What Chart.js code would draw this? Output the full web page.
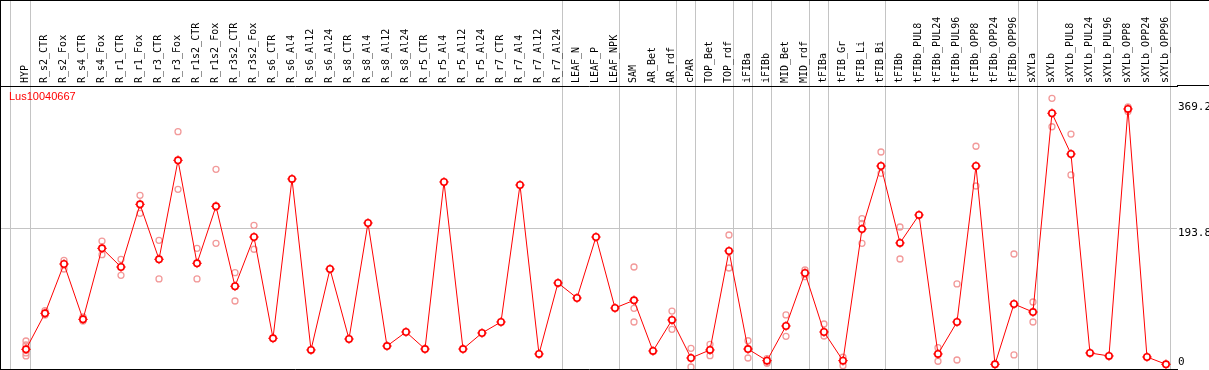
<!DOCTYPE html>
<html>
<head>
<meta charset="utf-8">
<script src="https://cdn.jsdelivr.net/npm/chart.js@4.4.1/dist/chart.umd.min.js"></script>
<style>
  html, body { margin: 0; padding: 0; background: #fff; }
  #wrap { width: 1208px; height: 369px; border-top: 1px solid #000; border-left: 1px solid #000; }
  canvas { display: block; }
</style>
</head>
<body>
<div id="wrap"><canvas id="exprChart" width="1208" height="369"></canvas></div>
<script>
// Expression profile for one gene across tissues / treatments
const geneName = 'Lus10040667';

const categories = [
    'HYP', 'R_s2_CTR', 'R_s2_Fox', 'R_s4_CTR', 'R_s4_Fox', 'R_r1_CTR', 'R_r1_Fox', 'R_r3_CTR', 'R_r3_Fox', 'R_r1s2_CTR',
    'R_r1s2_Fox', 'R_r3s2_CTR', 'R_r3s2_Fox', 'R_s6_CTR', 'R_s6_Al4', 'R_s6_Al12', 'R_s6_Al24', 'R_s8_CTR', 'R_s8_Al4', 'R_s8_Al12',
    'R_s8_Al24', 'R_r5_CTR', 'R_r5_Al4', 'R_r5_Al12', 'R_r5_Al24', 'R_r7_CTR', 'R_r7_Al4', 'R_r7_Al12', 'R_r7_Al24', 'LEAF_N',
    'LEAF_P', 'LEAF_NPK', 'SAM', 'AR_Bet', 'AR_rdf', 'cPAR', 'TOP_Bet', 'TOP_rdf', 'iFIBa', 'iFIBb',
    'MID_Bet', 'MID_rdf', 'tFIBa', 'tFIB_Gr', 'tFIB_Li', 'tFIB_Bi', 'tFIBb', 'tFIBb_PUL8', 'tFIBb_PUL24', 'tFIBb_PUL96',
    'tFIBb_OPP8', 'tFIBb_OPP24', 'tFIBb_OPP96', 'sXYLa', 'sXYLb', 'sXYLb_PUL8', 'sXYLb_PUL24', 'sXYLb_PUL96', 'sXYLb_OPP8', 'sXYLb_OPP24',
    'sXYLb_OPP96'
];

// mean expression (red line)
const means = [
    24.7, 75.0, 143.9, 66.6, 165.8, 139.7, 227.3, 150.5, 288.8, 144.9,
    224.5, 112.8, 181.6, 40.1, 262.7, 23.8, 136.9, 39.1, 201.2, 29.3,
    48.9, 25.1, 258.5, 25.1, 47.5, 62.9, 254.3, 18.2, 117.4, 96.4,
    181.6, 82.4, 93.2, 22.4, 65.7, 12.6, 23.8, 162.1, 25.1, 8.8,
    57.3, 131.3, 48.9, 8.8, 192.8, 280.8, 173.3, 212.4, 18.2, 62.9,
    280.8, 3.8, 88.0, 76.8, 354.5, 297.6, 19.6, 15.4, 360.5, 14.0,
    3.8
];

// single replicates (pink circles)
const repA = [
    36.3, 78.7, 149.1, 69.9, 176.0, 150.5, 239.9, 177.0, 328.8, 165.8,
    276.2, 131.8, 198.0, null, null, null, null, null, null, null,
    null, null, null, null, null, null, null, null, null, null,
    null, null, 139.7, null, 78.2, 26.1, 31.7, 184.4, 36.7, 11.6,
    72.7, 135.5, 60.1, 13.6, 207.2, 300.4, 195.6, null, 27.0, 116.0,
    308.4, null, 157.9, 90.8, 375.4, 325.5, null, null, 363.3, null,
    null
];
const repB = [
    15.4, 72.7, 136.9, 64.3, 156.9, 128.1, 214.7, 123.0, 248.3, 123.0,
    172.8, 92.2, 164.5, null, null, null, null, null, null, null,
    null, null, null, null, null, null, null, null, null, null,
    null, null, 62.9, null, 52.7, 0, 15.8, 138.3, 12.6, 5.2,
    42.9, 126.2, 43.3, 1.8, 172.8, 270.6, 150.9, null, 8.0, 9.8,
    252.9, null, 16.8, 62.9, 335.7, 268.3, null, null, 357.0, null,
    null
];
const repC = [
    30.7, null, null, null, null, null, null, null, null, null,
    null, null, null, null, null, null, null, null, null, null,
    null, null, null, null, null, null, null, null, null, null,
    null, null, 82.0, null, null, null, null, null, null, null,
    null, null, null, null, 200.8, null, null, null, null, null,
    null, null, null, null, null, null, null, null, null, null,
    null
];
const repD = [
    19.6, null, null, null, null, null, null, null, null, null,
    null, null, null, null, null, null, null, null, null, null,
    null, null, null, null, null, null, null, null, null, null,
    null, null, null, null, null, null, null, null, null, null,
    null, null, null, null, null, null, null, null, null, null,
    null, null, null, null, null, null, null, null, null, null,
    null
];

const yTicks = [0, 193.8, 369.2];
const gridValue = 193.8;

// last category index of each group (gray separator after it)
const groupEnds = [0, 28, 31, 34, 35, 37, 38, 39, 41, 42, 45, 52, 53, 60];

const xMin = -1.316, xMax = 60.58;
const yMin = -2.8, yMax = 392.6;
const labelShift = 0.6;   // rotated labels sit left of their tick, push them back over the points
const sepTicks = [-0.84].concat(groupEnds.map(i => i + 0.24));
const GRAY = '#c4c4c4';
const NONE = 'rgba(0,0,0,0)';
const MONO = 'DejaVu Sans Mono';

function toPoints(arr) {
    return arr.map((v, i) => ({ x: i, y: v }));
}

function isSep(ctx) {
    return ctx.tick && ctx.index >= categories.length;
}

function noPadding(s) {
    s.paddingLeft = 0;
    s.paddingRight = 0;
    s.paddingTop = 0;
    s.paddingBottom = 0;
}

const frameExtras = {
    id: 'frameExtras',
    afterDraw(chart) {
        const { ctx, chartArea } = chart;
        ctx.save();
        ctx.strokeStyle = '#000';
        ctx.lineWidth = 1;
        ctx.beginPath();
        ctx.moveTo(chartArea.right, chartArea.top - 0.5);
        ctx.lineTo(chart.width, chartArea.top - 0.5);
        ctx.stroke();
        ctx.fillStyle = '#ff0000';
        ctx.font = '11px "Liberation Sans"';
        ctx.textBaseline = 'middle';
        ctx.fillText(geneName, chartArea.left + 8, chartArea.top + 11);
        ctx.restore();
    }
};

const repStyle = {
    showLine: false,
    pointStyle: 'circle',
    pointRadius: 3,
    pointBorderWidth: 1.3,
    pointBorderColor: '#f29a9a',
    pointBackgroundColor: NONE,
    borderColor: '#f29a9a'
};

new Chart(document.getElementById('exprChart'), {
    type: 'line',
    data: {
        datasets: [
            {
                label: 'mean',
                data: toPoints(means),
                showLine: false,
                pointStyle: 'circle',
                pointRadius: 3.2,
                pointBorderWidth: 1.6,
                pointBorderColor: '#ff0000',
                pointBackgroundColor: '#ffffff',
                borderColor: '#ff0000'
            },
            {
                label: 'mean marks',
                data: toPoints(means),
                showLine: false,
                pointStyle: 'cross',
                pointRadius: 4.8,
                pointBorderWidth: 1,
                pointBorderColor: '#ff0000',
                borderColor: '#ff0000'
            },
            {
                label: 'mean line',
                data: toPoints(means),
                borderColor: '#ff0000',
                borderWidth: 1,
                pointRadius: 0,
                tension: 0
            },
            Object.assign({ label: 'rep A', data: toPoints(repA) }, repStyle),
            Object.assign({ label: 'rep B', data: toPoints(repB) }, repStyle),
            Object.assign({ label: 'rep C', data: toPoints(repC) }, repStyle),
            Object.assign({ label: 'rep D', data: toPoints(repD) }, repStyle)
        ]
    },
    options: {
        responsive: false,
        animation: false,
        devicePixelRatio: 1,
        layout: { padding: 0, autoPadding: false },
        plugins: {
            legend: { display: false },
            tooltip: { enabled: false }
        },
        scales: {
            x: {
                type: 'linear',
                position: 'top',
                min: xMin,
                max: xMax,
                afterBuildTicks: s => {
                    s.ticks = categories.map((c, i) => ({ value: i + labelShift }))
                        .concat(sepTicks.map(v => ({ value: v })));
                },
                afterFit: s => { s.height = 85; noPadding(s); },
                grid: {
                    color: c => isSep(c) ? GRAY : NONE,
                    tickColor: c => isSep(c) ? GRAY : NONE,
                    lineWidth: 1,
                    drawTicks: true,
                    tickLength: 85
                },
                border: { color: '#000', width: 1 },
                ticks: {
                    autoSkip: false,
                    minRotation: 90,
                    maxRotation: 90,
                    padding: -82,
                    color: '#000',
                    font: { family: MONO, size: 10 },
                    callback: (v, i) => i < categories.length ? categories[i] : ''
                }
            },
            xb: {
                type: 'linear',
                position: 'bottom',
                min: xMin,
                max: xMax,
                afterFit: s => { s.height = 1; noPadding(s); },
                ticks: { display: false },
                grid: { display: false },
                border: { color: '#000', width: 1 }
            },
            y: {
                type: 'linear',
                position: 'right',
                min: yMin,
                max: yMax,
                afterBuildTicks: s => { s.ticks = yTicks.map(v => ({ value: v })); },
                afterFit: s => { s.width = 32; noPadding(s); },
                grid: {
                    color: c => (c.tick && c.tick.value === gridValue) ? GRAY : NONE,
                    drawTicks: false
                },
                border: { display: false },
                ticks: {
                    autoSkip: false,
                    padding: 1,
                    color: '#000',
                    font: { family: MONO, size: 11, lineHeight: 0.8 },
                    // two-line labels nudge the text off the value line like the original
                    callback: v => v === 0 ? ['0', ''] : ['', v.toFixed(1)]
                }
            }
        }
    },
    plugins: [frameExtras]
});
</script>
</body>
</html>
